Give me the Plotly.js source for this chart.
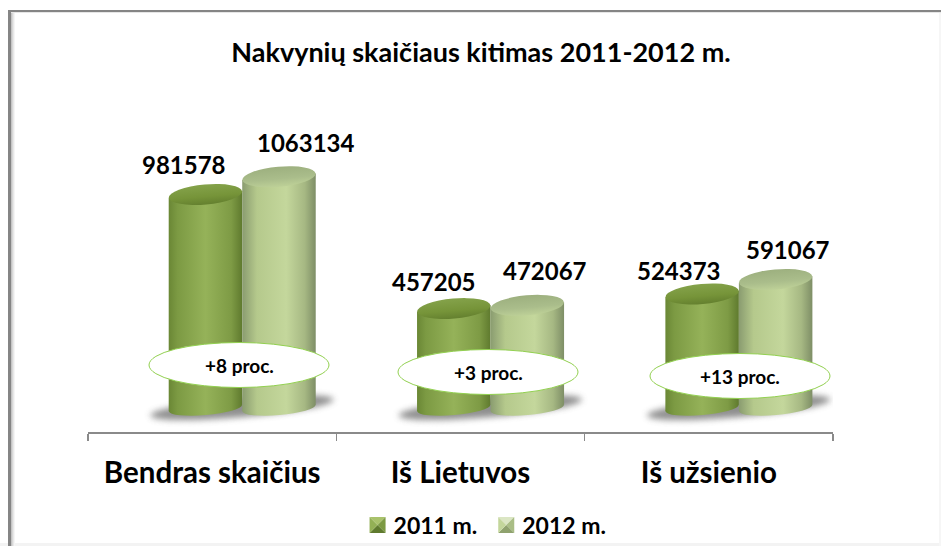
<!DOCTYPE html>
<html><head><meta charset="utf-8">
<script src="https://cdn.plot.ly/plotly-3.0.1.min.js"></script>
<style>html,body{margin:0;padding:0;background:#fff}</style></head>
<body><div id="chart" style="width:941px;height:546px"></div>
<script>
const categories = ['Bendras skaičius', 'Iš Lietuvos', 'Iš užsienio'];
const seriesNames = ['2011 m.', '2012 m.'];
const values2011 = [981578, 457205, 524373];
const values2012 = [1063134, 472067, 591067];
const changeLabels = ['+8 proc.', '+3 proc.', '+13 proc.'];
const titleText = 'Nakvynių skaičiaus kitimas 2011-2012 m.';

const FONT = 'Lato, sans-serif';
const L = 88, R = 833, T = 100, B = 432, ZERO = 408, PX_PER_UNIT = 0.0002175;
const px = x => (x - L) / (R - L), py = y => (B - y) / (B - T);
const units = p => p / PX_PER_UNIT;
const BW = 0.296, OFF = [-0.175, 0.121];
const series = [values2011, values2012];
const labelShift = [[-21, 30], [27, 34], [-20, 27], [18, 35], [-23, 23], [12, 30]];
const ovals = [[239, 365], [488, 372], [740, 376]];

const shapes = [], roles = [];
function add(s, role) { shapes.push(s); roles.push(role); }
const rect = (x0, y0, x1, y1, c) => add({type:'rect', xref:'paper', yref:'paper', x0:px(x0), x1:px(x1), y0:py(y0), y1:py(y1), fillcolor:c, line:{width:0}, layer:'below'}, 'frame');
rect(0, 543, 941, 546, '#f3f3f3'); rect(939, 12, 941, 546, '#f6f6f6');
[['11', '#c4c4c4'], ['12', '#d8d8d8'], ['13', '#e8e8e8'], ['14', '#f5f5f5']].forEach(([x, c]) => rect(+x, 12, +x + 1, 546, c));
rect(11, 12, 941, 13, '#e6e6e6');
rect(8, 10, 941, 12, '#858585'); rect(8, 10, 11, 546, '#858585');

categories.forEach((c, i) => {
  add({type:'circle', xref:'x', yref:'y', x0:i + 0.12 - 0.37, x1:i + 0.12 + 0.37, y0:units(-9), y1:units(10), fillcolor:'#7c7c7c', opacity:0.85, line:{width:0}, layer:'below'}, 'shadow');
});
series.forEach((vals, s) => vals.forEach((v, i) => {
  const cx = i + OFF[s] + BW / 2;
  add({type:'circle', xref:'x', yref:'y', x0:cx - BW / 2, x1:cx + BW / 2, y0:units(-7), y1:units(7), fillcolor:s ? '#a9bd85' : '#7b9a41', line:{width:0}, layer:'below'}, 'bottom' + s);
}));
series.forEach((vals, s) => vals.forEach((v, i) => {
  const cx = i + OFF[s] + BW / 2;
  add({type:'circle', xref:'x', yref:'y', x0:cx - BW / 2, x1:cx + BW / 2, y0:v - units(10), y1:v + units(10), fillcolor:s ? '#aabd8b' : '#76933c', line:{width:0}, layer:'above'}, 'top' + s);
}));
ovals.forEach(([x, y]) => add({type:'circle', xref:'paper', yref:'paper', x0:px(x - 90), x1:px(x + 90), y0:py(y + 22.5), y1:py(y - 22.5), fillcolor:'#ffffff', line:{color:'#92d050', width:1}, layer:'above'}, 'oval'));

const annotations = [];
[...values2011.flatMap((v, i) => [[i, OFF[0] + BW / 2, v], [i, OFF[1] + BW / 2, values2012[i]]])].forEach(([i, o, v], k) => {
  annotations.push({x:i + o, y:v, xref:'x', yref:'y', text:String(v), showarrow:false, xshift:labelShift[k][0], yshift:labelShift[k][1],
    font:{family:FONT, size:24, color:'#000', weight:700}});
});
changeLabels.forEach((t, i) => annotations.push({xref:'paper', yref:'paper', x:px(ovals[i][0]), y:py(ovals[i][1]), xanchor:'center', yanchor:'middle', text:t, showarrow:false,
  font:{family:FONT, size:19, color:'#000', weight:700}}));

const traces = series.map((vals, s) => ({type:'bar', name:seriesNames[s], x:categories, y:vals, width:BW, offset:OFF[s],
  marker:{color:s ? '#c3d69b' : '#93b055', line:{width:0}}, hoverinfo:'skip'}));

const layout = {
  width:941, height:546, margin:{l:L, r:941 - R, t:T, b:546 - B, pad:0},
  paper_bgcolor:'#fff', plot_bgcolor:'rgba(0,0,0,0)', barmode:'overlay', showlegend:true,
  title:{text:titleText, x:481 / 941, xanchor:'center', y:(546 - 53) / 546, yanchor:'middle', font:{family:FONT, size:27, color:'#000', weight:700}},
  xaxis:{type:'category', categoryorder:'array', categoryarray:categories, range:[-0.5, 2.5], tickson:'boundaries', ticks:'outside', ticklen:7, tickwidth:1.5, tickcolor:'#8a8a8a',
    showline:true, linecolor:'#8a8a8a', linewidth:1.5, showgrid:false, ticklabelstandoff:14, tickfont:{family:FONT, size:29.5, color:'#000', weight:700}},
  yaxis:{range:[units(ZERO - B), units(ZERO - T)], visible:false, showgrid:false, zeroline:false},
  legend:{orientation:'h', x:0.5128, xref:'container', xanchor:'center', y:(546 - 525) / 546, yref:'container', yanchor:'middle', font:{family:FONT, size:23, color:'#000', weight:700}, itemwidth:30, traceorder:'normal', bgcolor:'rgba(0,0,0,0)'},
  shapes, annotations
};

const NS = 'http://www.w3.org/2000/svg';
function gradient(defs, id, stops, vertical) {
  const g = document.createElementNS(NS, 'linearGradient');
  g.setAttribute('id', id);
  g.setAttribute('x1', '0'); g.setAttribute('y1', '0');
  g.setAttribute('x2', vertical ? '0' : '1'); g.setAttribute('y2', vertical ? '1' : '0');
  stops.forEach(([o, c]) => { const s = document.createElementNS(NS, 'stop'); s.setAttribute('offset', o); s.setAttribute('stop-color', c); g.appendChild(s); });
  defs.appendChild(g);
}
Plotly.newPlot('chart', traces, layout, {displayModeBar:false, staticPlot:true}).then(gd => {
  const svg = gd.querySelector('svg.main-svg');
  const defs = svg.querySelector('defs');
  gradient(defs, 'cyl0', [[0, '#6a8735'], [0.12, '#7c9a43'], [0.5, '#95b259'], [0.85, '#7e9b45'], [1, '#5f7a2e']]);
  gradient(defs, 'cyl1', [[0, '#8a9c70'], [0.2, '#b5c98c'], [0.6, '#c4d79c'], [0.85, '#a6b883'], [1, '#7e8e66']]);
  gradient(defs, 'top0', [[0, '#84a24a'], [0.6, '#769439'], [1, '#64802f']], true);
  gradient(defs, 'top1', [[0, '#9db07f'], [0.6, '#aabd8b'], [1, '#bdd097']], true);
  const f = document.createElementNS(NS, 'filter');
  f.setAttribute('id', 'soft'); f.setAttribute('x', '-20%'); f.setAttribute('y', '-60%'); f.setAttribute('width', '140%'); f.setAttribute('height', '220%');
  const b = document.createElementNS(NS, 'feGaussianBlur'); b.setAttribute('stdDeviation', '3'); f.appendChild(b); defs.appendChild(f);

  const TILT = 3.2;
  gd.querySelectorAll('.barlayer .trace').forEach((t, s) => t.querySelectorAll('path').forEach(p => {
    p.style.setProperty('fill', 'url(#cyl' + s + ')');
    const n = (p.getAttribute('d') || '').match(/-?[\d.]+/g);
    if (n && n.length >= 4) {
      const [x0, y1, y0, x1] = n.map(Number);
      p.setAttribute('d', 'M' + x0 + ',' + (y1 + TILT) + 'L' + x0 + ',' + (y0 + TILT) + 'L' + x1 + ',' + (y0 - TILT) + 'L' + x1 + ',' + (y1 - TILT) + 'Z');
    }
  }));
  roles.forEach((r, i) => {
    const el = gd.querySelector('.shapelayer path[data-index="' + i + '"]');
    if (!el || r === 'frame' || r === 'oval') return;
    const bb = el.getBBox();
    el.setAttribute('transform', 'rotate(-5 ' + (bb.x + bb.width / 2) + ' ' + (bb.y + bb.height / 2) + ')');
    el.removeAttribute('clip-path');
    if (r === 'shadow') el.style.setProperty('filter', 'url(#soft)');
    if (r === 'top0' || r === 'top1') el.style.setProperty('fill', 'url(#' + r + ')');
    if (r === 'bottom0') el.style.setProperty('fill', 'url(#cyl0)');
    if (r === 'bottom1') el.style.setProperty('fill', 'url(#cyl1)');
  });
  gd.querySelectorAll('.legend .traces').forEach((t, s) => {
    const p = t.querySelector('.legendpoints path');
    if (!p) return;
    const g = p.parentNode, cols = s ? ['#dbe6c4', '#a9bd85', '#8fa26e', '#c3d69b'] : ['#a9c26b', '#7c9a43', '#5f7a2e', '#93b055'];
    p.style.setProperty('opacity', '0');
    [['M-8,-8L8,-8L0,0Z', 0], ['M8,-8L8,8L0,0Z', 1], ['M-8,8L8,8L0,0Z', 2], ['M-8,-8L-8,8L0,0Z', 3]].forEach(([d, c]) => {
      const e = document.createElementNS(NS, 'path'); e.setAttribute('d', d); e.setAttribute('fill', cols[c]); e.setAttribute('transform', 'translate(24,0)'); g.appendChild(e);
    });
  });
});
</script></body></html>
